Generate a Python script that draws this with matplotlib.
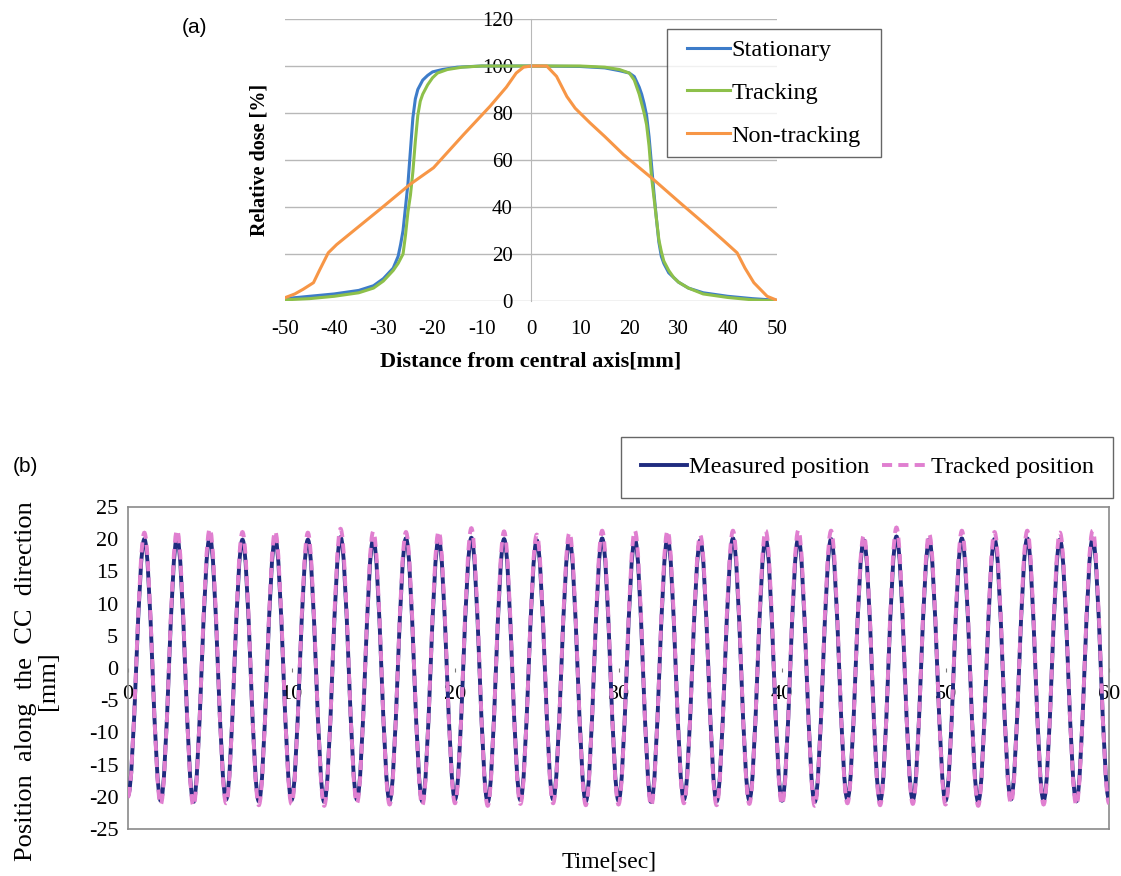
import numpy as np
import matplotlib
matplotlib.use('Agg')
import matplotlib.pyplot as plt
from matplotlib.path import Path
from matplotlib.patches import PathPatch
from matplotlib.lines import Line2D
from matplotlib.legend_handler import HandlerLine2D

plt.rcParams['font.family'] = ['Liberation Serif', 'DejaVu Serif']
plt.rcParams['axes.unicode_minus'] = False

# (a) dose profiles
stat_x = [-50, -45, -40, -35, -32, -30, -28, -27, -26.5, -26, -25.5, -25, -24.5, -24, -23.5, -23,
          -22, -21, -20, -18, -15, -10, 0, 10, 15, 18, 20, 21, 22, 22.5, 23, 23.5, 24, 24.5, 25,
          25.5, 26, 26.5, 27, 28, 30, 32, 35, 40, 45, 50]
stat_y = [1, 2, 3, 4.5, 6.5, 9.5, 14, 19, 24, 30, 40, 50, 64, 78, 86, 90,
          94, 96, 97.5, 98.5, 99.5, 100, 100, 99.8, 99.2, 98, 97, 95.5, 91, 88, 84, 79, 70, 58, 46,
          35, 25, 19, 16, 12, 8, 5.5, 3.5, 2, 1, 0.3]

track_x = [-50, -45, -40, -35, -32, -30, -28, -27, -26, -25.5, -25, -24.5, -24, -23.5, -23, -22.5,
           -22, -21.5, -21, -20, -19, -17, -14, -10, 0, 10, 15, 18, 20, 21, 21.5, 22, 22.5, 23, 23.5,
           24, 24.5, 25, 25.5, 26, 26.5, 27, 28, 29, 30, 32, 35, 40, 45, 50]
track_y = [0.5, 1, 2, 3.5, 5.5, 8.5, 13, 16, 20, 28, 38, 45, 55, 68, 79, 85,
           88, 90, 92, 95, 97, 98.5, 99.5, 100, 100, 100, 99.5, 98.5, 97, 94, 91, 88, 84, 80, 75,
           66, 53, 44, 35, 26, 21, 17, 13, 10, 8, 5.5, 3, 1.5, 0.5, 0]

nontr_x = [-50, -48, -46.3, -44.2, -43, -41.2, -39.5, -35.4, -30.7, -24.6, -19.8, -13.7, -8.3, -5,
           -3, -1.5, 0, 1.5, 3.2, 5.2, 7.3, 9, 12, 15, 18.8, 24.9, 30.3, 35.8, 39, 41.9, 43.5,
           45.3, 48, 50]
nontr_y = [1.4, 3, 5, 7.8, 13, 20.5, 24, 31, 39, 49.6, 56.7, 70.8, 82.9, 91,
           97, 99.5, 100, 100, 100, 95.6, 87, 82, 75.8, 70, 62.3, 51.7, 41.8, 31.9, 26, 20.5, 14,
           7.8, 2, 0.3]

# (b) extremes of the breathing motion, one every second (trough, peak, trough ...)
ext_t = list(range(0, 61))
meas_peaks = [20.0, 20.2, 20.3, 19.9, 20.1, 19.9, 20.3, 20.0, 20.1, 20.0, 20.2, 20.0, 19.8, 19.9, 20.1,
              20.0, 20.1, 19.8, 20.1, 20.0, 20.2, 20.0, 19.8, 20.4, 19.9, 20.1, 20.0, 20.1, 19.9, 20.1]
meas_troughs = [-19.8, -20.6, -20.8, -20.4, -20.7, -20.5, -20.8, -20.4, -20.6, -20.7, -20.4, -20.8,
                -20.5, -20.4, -20.7, -20.6, -20.8, -20.4, -20.7, -20.5, -20.6, -20.8, -20.4, -20.7,
                -20.5, -20.6, -20.8, -20.4, -20.6, -20.7, -20.4]
trk_peaks = [21.0, 21.4, 21.6, 21.1, 21.2, 21.0, 21.6, 21.2, 21.1, 21.2, 21.7, 21.2, 20.7, 21.0, 21.3,
             21.3, 21.3, 20.6, 21.3, 21.3, 21.4, 21.3, 20.6, 21.8, 20.8, 21.3, 21.1, 21.3, 21.0, 21.3]
trk_troughs = [-20.0, -21.2, -21.4, -21.0, -21.3, -21.1, -21.4, -21.0, -21.2, -21.3, -21.0, -21.4,
               -21.1, -21.0, -21.3, -21.2, -21.4, -21.0, -21.3, -21.1, -21.2, -21.4, -21.0, -21.3,
               -21.1, -21.2, -21.4, -21.0, -21.2, -21.3, -21.0]


def interleave(troughs, peaks):
    v = []
    for i in range(len(peaks)):
        v += [troughs[i], peaks[i]]
    v.append(troughs[-1])
    return v


def wave_path(t, v, a=0.3634):
    # smooth cubic segments between the extremes (flat tangent at each extreme)
    verts = [(t[0], v[0])]
    codes = [Path.MOVETO]
    for i in range(len(t) - 1):
        dt = t[i + 1] - t[i]
        verts += [(t[i] + a * dt, v[i]), (t[i + 1] - a * dt, v[i + 1]), (t[i + 1], v[i + 1])]
        codes += [Path.CURVE4] * 3
    return Path(verts, codes)


fig = plt.figure(figsize=(11.21, 8.76), dpi=100)

# ---------------- panel (a)
ax1 = fig.add_axes([0.2542, 0.6564, 0.4389, 0.3219])
ax1.plot(stat_x, stat_y, color='#3d7cc9', lw=2.2, label='Stationary')
ax1.plot(track_x, track_y, color='#8dc04a', lw=2.2, label='Tracking')
ax1.plot(nontr_x, nontr_y, color='#f79646', lw=2.2, label='Non-tracking')
ax1.set_xlim(-50, 50)
ax1.set_ylim(0, 120)
ax1.set_xticks(np.arange(-50, 51, 10))
ax1.set_yticks(np.arange(0, 121, 20))
ax1.grid(axis='y', color='#b8b8b8', lw=1.0)
ax1.set_axisbelow(True)
for s in ['top', 'right', 'bottom']:
    ax1.spines[s].set_visible(False)
ax1.spines['left'].set_position(('data', 0))
ax1.spines['left'].set_color('#b8b8b8')
ax1.tick_params(axis='both', length=0, labelsize=15)
ax1.tick_params(axis='y', pad=13)
ax1.tick_params(axis='x', pad=14)
ax1.set_xlabel('Distance from central axis[mm]', fontsize=16, fontweight='bold', labelpad=9)
ax1.set_ylabel('Relative dose [%]', fontsize=14.5, fontweight='bold')
ax1.yaxis.set_label_coords(-0.032, 0.5)
leg1 = ax1.legend(loc='upper left', bbox_to_anchor=(667 / 1121, 1 - 156 / 876, 214 / 1121, 127 / 876),
                  bbox_transform=fig.transFigure, mode='expand', fontsize=17.5, frameon=True,
                  fancybox=False, handlelength=2.17, handletextpad=0.05, borderpad=0.42,
                  labelspacing=0.85, borderaxespad=0, handler_map={Line2D: HandlerLine2D(xpad=0.4)})
leg1.get_frame().set_edgecolor('#404040')
leg1.get_frame().set_linewidth(1.0)

# ---------------- panel (b)
ax2 = fig.add_axes([0.1142, 0.0537, 0.8751, 0.3676])
meas_v = interleave(meas_troughs, meas_peaks)
trk_v = interleave(trk_troughs, trk_peaks)
ax2.add_patch(PathPatch(wave_path(ext_t, meas_v), fill=False, edgecolor='#1f2b7f', lw=2.8, zorder=3))
ax2.add_patch(PathPatch(wave_path(ext_t, trk_v), fill=False, edgecolor='#e07fd0', lw=2.8,
                        ls=(0, (2.6, 1.6)), zorder=4))
ax2.set_xlim(0, 60)
ax2.set_ylim(-25, 25)
ax2.set_yticks(np.arange(-25, 26, 5))
ax2.set_yticks(np.arange(-20, 21, 5), minor=True)
ax2.grid(axis='y', which='minor', color='#7a7a7a', lw=1.4)
ax2.set_xticks([])
ax2.tick_params(axis='y', which='both', length=0, labelsize=16, pad=7)
for s in ax2.spines.values():
    s.set_color('#8a8a8a')
    s.set_linewidth(1.2)

sec = ax2.secondary_xaxis(0.5)
sec.set_xticks(np.arange(0, 61, 10))
sec.xaxis.set_ticks_position('bottom')
for s in sec.spines.values():
    s.set_visible(False)
sec.tick_params(length=3, color='#7a7a7a', labelsize=16, pad=9)

ax2.set_xlabel('Time[sec]', fontsize=17)
ax2.xaxis.set_label_coords(0.49, -0.07)
ax2.xaxis.label.set_va('top')
ax2.set_ylabel('Position  along  the  CC  direction\n[mm]', fontsize=19, linespacing=1.0)
ax2.yaxis.set_label_coords(-0.07, 0.46)

h1 = Line2D([], [], color='#1f2b7f', lw=2.8)
h2 = Line2D([], [], color='#e07fd0', lw=2.8, ls=(0, (2.6, 1.6)))
leg2 = ax2.legend([h1, h2], ['Measured position', 'Tracked position'], ncol=2,
                  loc='upper right', bbox_to_anchor=(1113 / 1121, 1 - 437 / 876),
                  bbox_transform=fig.transFigure, fontsize=17.5, frameon=True, fancybox=False,
                  handlelength=1.9, handletextpad=0.1, columnspacing=0.5, borderpad=0.8,
                  borderaxespad=0)
leg2.get_frame().set_edgecolor('#404040')
leg2.get_frame().set_linewidth(1.0)

fig.text(0.162, 0.969, '(a)', fontsize=15, family='Liberation Sans', ha='left', va='center')
fig.text(0.0115, 0.468, '(b)', fontsize=15, family='Liberation Sans', ha='left', va='center')

fig.savefig('out.png', dpi=100)
